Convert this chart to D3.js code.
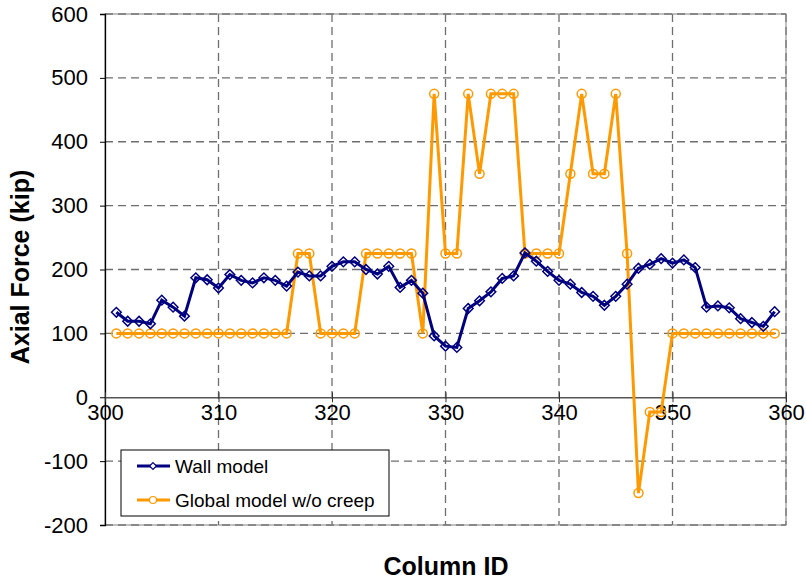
<!DOCTYPE html>
<html lang="en">
<head>
  <meta charset="UTF-8">
  <title>Axial Force by Column</title>
  <script src="https://d3js.org/d3.v7.min.js"></script>
  <style>
    body { margin: 0; background: #fff; }
    svg { font-family: "Liberation Sans", Arial, sans-serif; }
  </style>
</head>
<body>
  <svg width="806" height="579"></svg>

  <script>
    const columns = d3.range(301, 360);

    const wallModel = [
      133, 119, 119, 115, 152, 141, 127, 187, 184, 171,
      192, 183, 179, 187, 183, 174, 196, 190, 190, 205,
      212, 212, 200, 193, 205, 172, 183, 163, 96, 80,
      78, 139, 151, 165, 186, 190, 226, 213, 197, 183,
      177, 164, 158, 144, 158, 177, 202, 208, 217, 210,
      215, 203, 141, 143, 140, 123, 117, 111, 134
    ];

    const globalModel = [
      100, 100, 100, 100, 100, 100, 100, 100, 100, 100,
      100, 100, 100, 100, 100, 100, 225, 225, 100, 100,
      100, 100, 225, 225, 225, 225, 225, 100, 475, 225,
      225, 475, 350, 475, 475, 475, 225, 225, 225, 225,
      350, 475, 350, 350, 475, 225, -150, -23, -23, 100,
      100, 100, 100, 100, 100, 100, 100, 100, 100
    ];

    const xTicks = [300, 310, 320, 330, 340, 350, 360];
    const yTicks = [-200, -100, 0, 100, 200, 300, 400, 500, 600];

    const svg = d3.select("svg");
    const plotL = 105, plotR = 786, plotT = 14, plotB = 525;

    const x = d3.scaleLinear().domain([300, 360]).range([plotL, plotR]);
    const y = d3.scaleLinear().domain([-200, 600]).range([plotB, plotT]);

    // grid
    const grid = svg.append("g")
      .attr("stroke", "#6e6e6e")
      .attr("stroke-width", 1.3)
      .attr("stroke-dasharray", "8,5");
    grid.selectAll(".hg").data(yTicks.filter(d => d !== 0))
      .enter().append("line")
      .attr("x1", plotL).attr("x2", plotR)
      .attr("y1", d => y(d)).attr("y2", d => y(d));
    grid.selectAll(".vg").data(xTicks.slice(1))
      .enter().append("line")
      .attr("y1", plotT).attr("y2", plotB)
      .attr("x1", d => x(d)).attr("x2", d => x(d));

    // plot border
    svg.append("rect")
      .attr("x", plotL).attr("y", plotT)
      .attr("width", plotR - plotL).attr("height", plotB - plotT)
      .attr("fill", "none").attr("stroke", "#808080").attr("stroke-width", 1);

    // y axis
    const yAxis = svg.append("g")
      .attr("transform", `translate(${plotL},0)`)
      .call(d3.axisLeft(y).tickValues(yTicks).tickSize(5).tickPadding(12)
        .tickFormat(d => String(d)));
    yAxis.select(".domain").attr("stroke", "#000").attr("stroke-width", 1.3);
    yAxis.selectAll("text").attr("font-size", 22).attr("fill", "#000");

    // x axis on zero line
    const xAxis = svg.append("g")
      .attr("transform", `translate(0,${y(0)})`)
      .call(d3.axisBottom(x).tickValues(xTicks).tickSizeInner(5).tickSizeOuter(0).tickPadding(2)
        .tickFormat(d => String(d)));
    xAxis.select(".domain").attr("stroke", "#555").attr("stroke-width", 1.6);
    xAxis.selectAll(".tick line").attr("y1", -5).attr("stroke", "#333");
    xAxis.selectAll("text").attr("font-size", 22).attr("fill", "#000");

    // lines
    const line = d3.line().x((d, i) => x(columns[i])).y(d => y(d));

    svg.append("path")
      .datum(globalModel)
      .attr("fill", "none")
      .attr("stroke", "#ff9900")
      .attr("stroke-width", 3)
      .attr("d", line);

    svg.append("g").selectAll("circle")
      .data(globalModel)
      .enter().append("circle")
      .attr("cx", (d, i) => x(columns[i]))
      .attr("cy", d => y(d))
      .attr("r", 4.5)
      .attr("fill", "none")
      .attr("stroke", "#ff9900")
      .attr("stroke-width", 1.5);

    svg.append("path")
      .datum(wallModel)
      .attr("fill", "none")
      .attr("stroke", "#000080")
      .attr("stroke-width", 3)
      .attr("d", line);

    const diamond = d3.symbol().type(d3.symbolDiamond2).size(60);
    svg.append("g").selectAll("path")
      .data(wallModel)
      .enter().append("path")
      .attr("d", diamond)
      .attr("transform", (d, i) => `translate(${x(columns[i])},${y(d)})`)
      .attr("fill", "none")
      .attr("stroke", "#000080")
      .attr("stroke-width", 1.5);

    // axis titles
    svg.append("text")
      .attr("transform", "translate(29,267) rotate(-90)")
      .attr("text-anchor", "middle")
      .attr("font-size", 25).attr("font-weight", "bold")
      .text("Axial Force (kip)");

    svg.append("text")
      .attr("x", 446).attr("y", 575)
      .attr("text-anchor", "middle")
      .attr("font-size", 25).attr("font-weight", "bold")
      .text("Column ID");

    // legend
    const legend = svg.append("g");
    legend.append("rect")
      .attr("x", 121).attr("y", 450).attr("width", 268).attr("height", 66)
      .attr("fill", "#fff").attr("stroke", "#000").attr("stroke-width", 1);

    const items = [
      { name: "Wall model", color: "#000080", shape: "diamond", yy: 466 },
      { name: "Global model w/o creep", color: "#ff9900", shape: "circle", yy: 500 }
    ];
    items.forEach(it => {
      legend.append("line")
        .attr("x1", 137).attr("x2", 170).attr("y1", it.yy).attr("y2", it.yy)
        .attr("stroke", it.color).attr("stroke-width", 3);
      if (it.shape === "circle") {
        legend.append("circle").attr("cx", 153).attr("cy", it.yy).attr("r", 3.5)
          .attr("fill", "#fff").attr("stroke", it.color).attr("stroke-width", 1.2);
      } else {
        legend.append("path").attr("d", d3.symbol().type(d3.symbolDiamond2).size(30))
          .attr("transform", `translate(153,${it.yy})`)
          .attr("fill", "#fff").attr("stroke", it.color).attr("stroke-width", 1.2);
      }
      legend.append("text")
        .attr("x", 175).attr("y", it.yy + 7)
        .attr("font-size", 19)
        .text(it.name);
    });
  </script>
</body>
</html>
